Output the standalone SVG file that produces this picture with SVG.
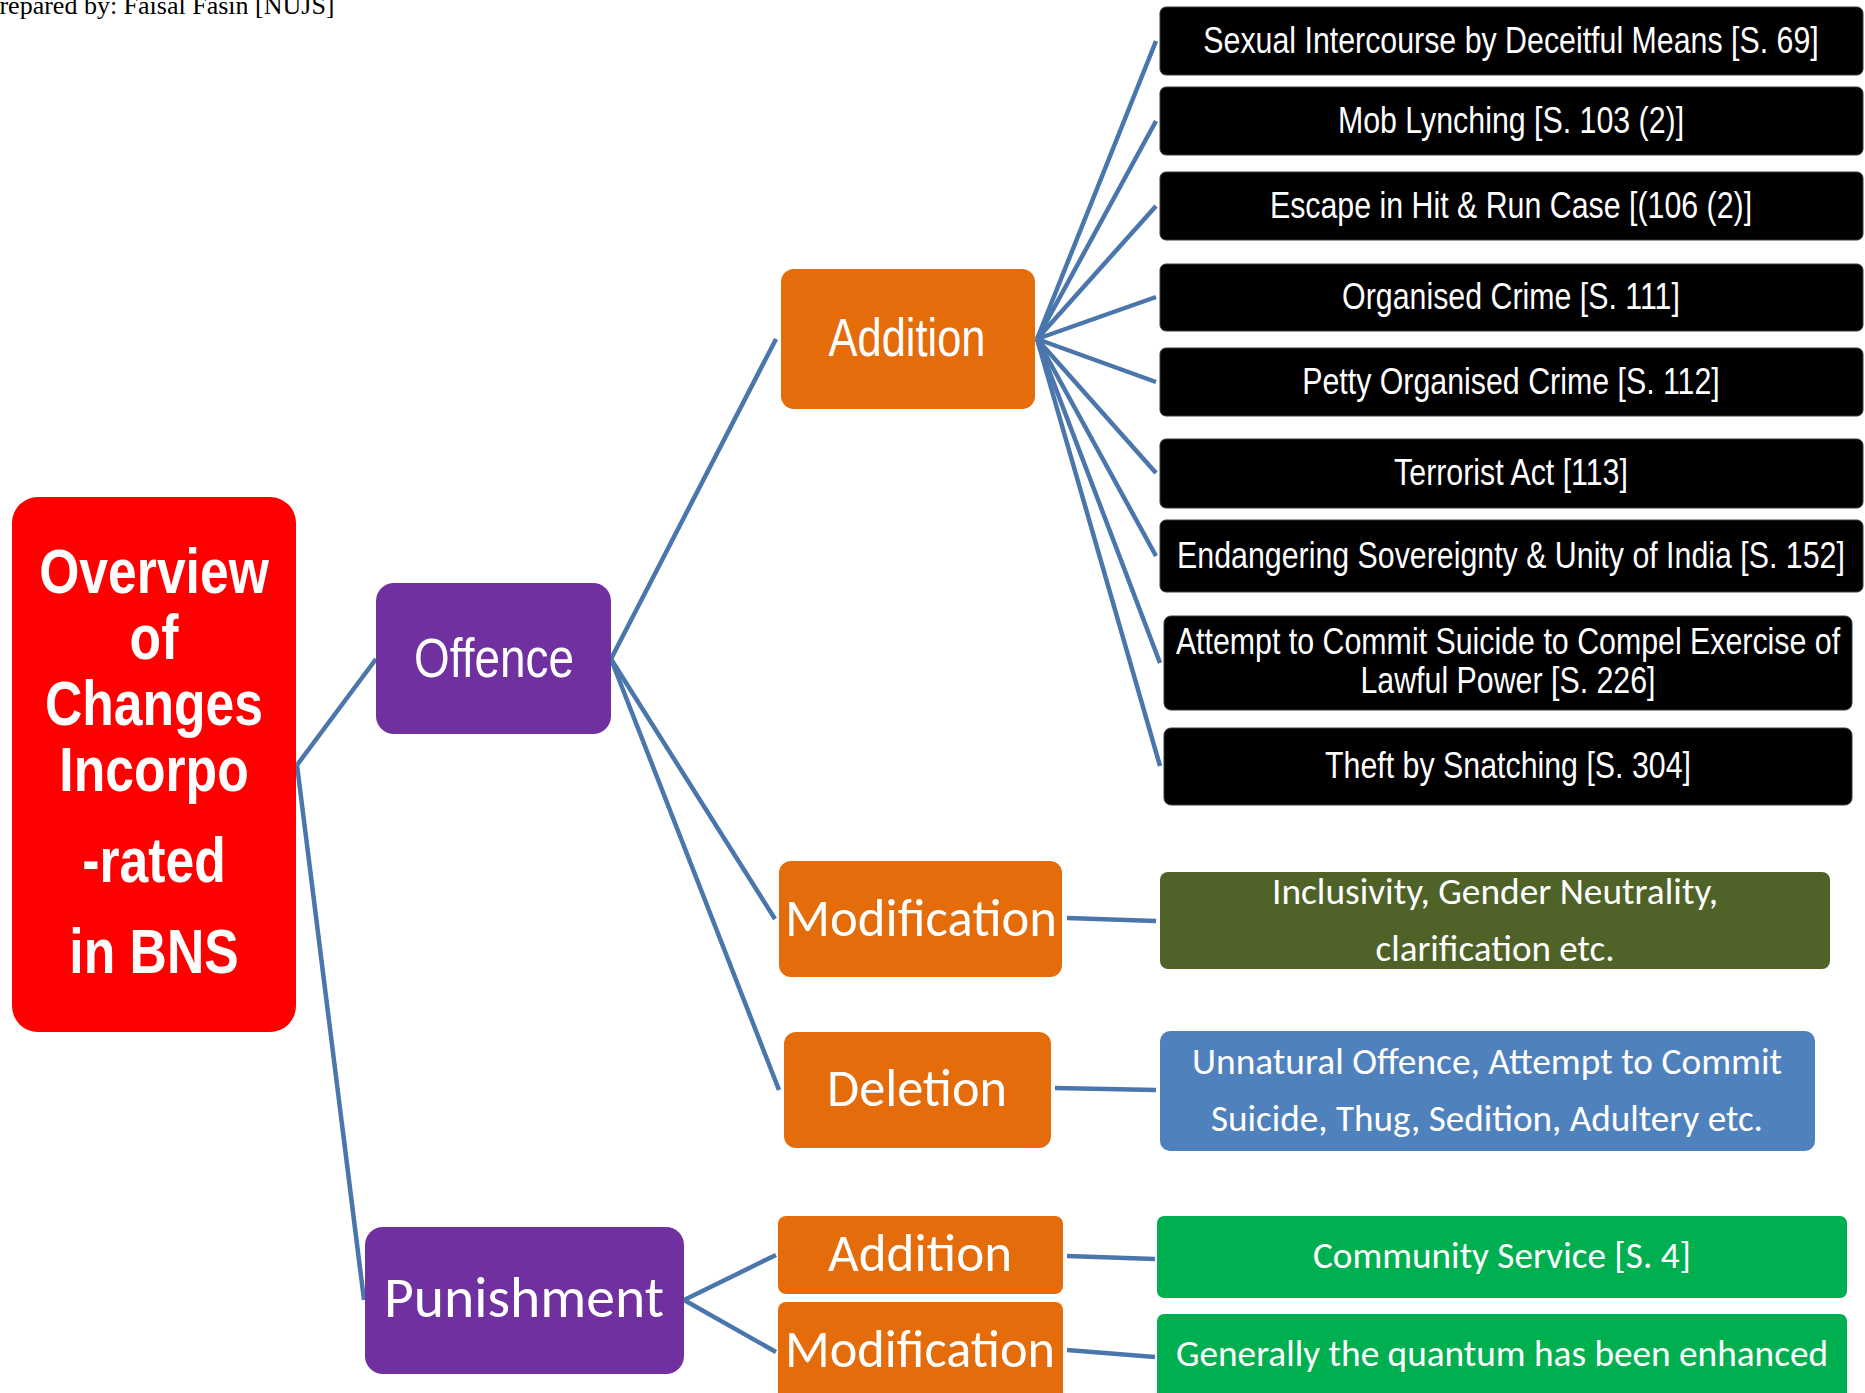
<svg xmlns="http://www.w3.org/2000/svg" width="1865" height="1393" viewBox="0 0 1865 1393">
  <style>
    .bg { fill: #ffffff; }
    .link { fill: none; stroke: #4a76ab; stroke-width: 4.5; stroke-linecap: butt; }
    .root { fill: #ff0000; }
    .cat { fill: #7030a0; }
    .kind { fill: #e46c0a; }
    .item { fill: #000000; stroke: #3a3a3a; stroke-width: 1; }
    .olive { fill: #4f6228; }
    .blue { fill: #4f81bd; }
    .green { fill: #00b050; }
    .narrow { font-family: "Liberation Sans", Arial, Helvetica, sans-serif; fill: #ffffff; text-anchor: middle; }
    .narrow.bold { font-weight: bold; }
    .soft { font-family: Carlito, Lato, "Open Sans", sans-serif; fill: #ffffff; text-anchor: middle; }
    .credit { font-family: "Liberation Serif", "Times New Roman", serif; font-size: 26px; fill: #000000; }
  </style>

  <rect class="bg" x="0" y="0" width="1865" height="1393"/>

  <text class="credit" x="-15" y="14">Prepared by: Faisal Fasin [NUJS]</text>

  <!-- connectors -->
  <g id="connectors">
    <line class="link" x1="297" y1="765" x2="376" y2="659"/>
    <line class="link" x1="297" y1="765" x2="364" y2="1300"/>
    <line class="link" x1="611" y1="659" x2="776" y2="339"/>
    <line class="link" x1="611" y1="659" x2="775" y2="919"/>
    <line class="link" x1="611" y1="659" x2="779" y2="1090"/>
    <line class="link" x1="1037" y1="339" x2="1156" y2="41"/>
    <line class="link" x1="1037" y1="339" x2="1156" y2="121"/>
    <line class="link" x1="1037" y1="339" x2="1156" y2="206"/>
    <line class="link" x1="1037" y1="339" x2="1156" y2="297"/>
    <line class="link" x1="1037" y1="339" x2="1156" y2="382"/>
    <line class="link" x1="1037" y1="339" x2="1156" y2="473"/>
    <line class="link" x1="1037" y1="339" x2="1156" y2="556"/>
    <line class="link" x1="1037" y1="339" x2="1160" y2="663"/>
    <line class="link" x1="1037" y1="339" x2="1160" y2="766"/>
    <line class="link" x1="1067" y1="918" x2="1156" y2="921"/>
    <line class="link" x1="1055" y1="1088" x2="1156" y2="1090"/>
    <line class="link" x1="684" y1="1300" x2="776" y2="1255"/>
    <line class="link" x1="684" y1="1300" x2="776" y2="1352"/>
    <line class="link" x1="1067" y1="1256" x2="1155" y2="1259"/>
    <line class="link" x1="1067" y1="1350" x2="1155" y2="1357"/>
  </g>

  <!-- root -->
  <g id="node-root">
    <rect class="root" x="12" y="497" width="284" height="535" rx="26"/>
    <g class="narrow bold" font-size="63">
      <text transform="translate(154 593) scale(0.82 1)">Overview</text>
      <text transform="translate(154 659) scale(0.82 1)">of</text>
      <text transform="translate(154 725) scale(0.82 1)">Changes</text>
      <text transform="translate(154 791) scale(0.82 1)">Incorpo</text>
      <text transform="translate(154 882) scale(0.82 1)">-rated</text>
      <text transform="translate(154 973) scale(0.82 1)">in BNS</text>
    </g>
  </g>

  <!-- offence branch -->
  <g id="node-offence">
    <rect class="cat" x="376" y="583" width="235" height="151" rx="18"/>
    <text class="narrow" font-size="56" transform="translate(494 677) scale(0.82 1)">Offence</text>
  </g>

  <g id="node-offence-addition">
    <rect class="kind" x="781" y="269" width="254" height="140" rx="13"/>
    <text class="narrow" font-size="53" transform="translate(907 356) scale(0.82 1)">Addition</text>
  </g>

  <g id="node-offence-modification">
    <rect class="kind" x="779" y="861" width="283" height="116" rx="12"/>
    <text class="soft" x="921" y="936" font-size="53" textLength="272" lengthAdjust="spacingAndGlyphs">Modification</text>
  </g>

  <g id="node-offence-deletion">
    <rect class="kind" x="784" y="1032" width="267" height="116" rx="12"/>
    <text class="soft" x="917" y="1106" font-size="54" textLength="180" lengthAdjust="spacingAndGlyphs">Deletion</text>
  </g>

  <!-- added offences -->
  <g id="node-s69">
    <rect class="item" x="1160" y="7" width="703" height="68" rx="6"/>
    <text class="narrow" font-size="37" transform="translate(1511 53) scale(0.82 1)">Sexual Intercourse by Deceitful Means [S. 69]</text>
  </g>
  <g id="node-s103">
    <rect class="item" x="1160" y="87" width="703" height="68" rx="6"/>
    <text class="narrow" font-size="37" transform="translate(1511 133) scale(0.82 1)">Mob Lynching [S. 103 (2)]</text>
  </g>
  <g id="node-s106">
    <rect class="item" x="1160" y="172" width="703" height="68" rx="6"/>
    <text class="narrow" font-size="37" transform="translate(1511 218) scale(0.82 1)">Escape in Hit &amp; Run Case [(106 (2)]</text>
  </g>
  <g id="node-s111">
    <rect class="item" x="1160" y="264" width="703" height="67" rx="6"/>
    <text class="narrow" font-size="37" transform="translate(1511 309) scale(0.82 1)">Organised Crime [S. 111]</text>
  </g>
  <g id="node-s112">
    <rect class="item" x="1160" y="348" width="703" height="68" rx="6"/>
    <text class="narrow" font-size="37" transform="translate(1511 394) scale(0.82 1)">Petty Organised Crime [S. 112]</text>
  </g>
  <g id="node-s113">
    <rect class="item" x="1160" y="439" width="703" height="69" rx="6"/>
    <text class="narrow" font-size="37" transform="translate(1511 485) scale(0.82 1)">Terrorist Act [113]</text>
  </g>
  <g id="node-s152">
    <rect class="item" x="1160" y="520" width="703" height="72" rx="6"/>
    <text class="narrow" font-size="37" transform="translate(1511 568) scale(0.82 1)">Endangering Sovereignty &amp; Unity of India [S. 152]</text>
  </g>
  <g id="node-s226">
    <rect class="item" x="1164" y="616" width="688" height="94" rx="7"/>
    <text class="narrow" font-size="37" transform="translate(1508 654) scale(0.82 1)">Attempt to Commit Suicide to Compel Exercise of</text>
    <text class="narrow" font-size="37" transform="translate(1508 693) scale(0.82 1)">Lawful Power [S. 226]</text>
  </g>
  <g id="node-s304">
    <rect class="item" x="1164" y="728" width="688" height="77" rx="7"/>
    <text class="narrow" font-size="37" transform="translate(1508 778) scale(0.82 1)">Theft by Snatching [S. 304]</text>
  </g>

  <!-- modification / deletion details -->
  <g id="node-modification-detail">
    <rect class="olive" x="1160" y="872" width="670" height="97" rx="8"/>
    <text class="soft" x="1495" y="904" font-size="36" textLength="446" lengthAdjust="spacingAndGlyphs">Inclusivity, Gender Neutrality,</text>
    <text class="soft" x="1495" y="961" font-size="36" textLength="239" lengthAdjust="spacingAndGlyphs">clarification etc.</text>
  </g>
  <g id="node-deletion-detail">
    <rect class="blue" x="1160" y="1031" width="655" height="120" rx="10"/>
    <text class="soft" x="1487" y="1074" font-size="36" textLength="590" lengthAdjust="spacingAndGlyphs">Unnatural Offence, Attempt to Commit</text>
    <text class="soft" x="1487" y="1131" font-size="36" textLength="552" lengthAdjust="spacingAndGlyphs">Suicide, Thug, Sedition, Adultery etc.</text>
  </g>

  <!-- punishment branch -->
  <g id="node-punishment">
    <rect class="cat" x="365" y="1227" width="319" height="147" rx="18"/>
    <text class="soft" x="524" y="1317" font-size="58" textLength="280" lengthAdjust="spacingAndGlyphs">Punishment</text>
  </g>
  <g id="node-punishment-addition">
    <rect class="kind" x="778" y="1216" width="285" height="78" rx="8"/>
    <text class="soft" x="920" y="1271" font-size="54" textLength="184" lengthAdjust="spacingAndGlyphs">Addition</text>
  </g>
  <g id="node-punishment-modification">
    <rect class="kind" x="778" y="1302" width="285" height="110" rx="8"/>
    <text class="soft" x="920" y="1367" font-size="53" textLength="270" lengthAdjust="spacingAndGlyphs">Modification</text>
  </g>
  <g id="node-community-service">
    <rect class="green" x="1157" y="1216" width="690" height="82" rx="7"/>
    <text class="soft" x="1502" y="1268" font-size="36" textLength="378" lengthAdjust="spacingAndGlyphs">Community Service [S. 4]</text>
  </g>
  <g id="node-quantum">
    <rect class="green" x="1157" y="1314" width="690" height="98" rx="7"/>
    <text class="soft" x="1502" y="1366" font-size="36" textLength="652" lengthAdjust="spacingAndGlyphs">Generally the quantum has been enhanced</text>
  </g>
</svg>
